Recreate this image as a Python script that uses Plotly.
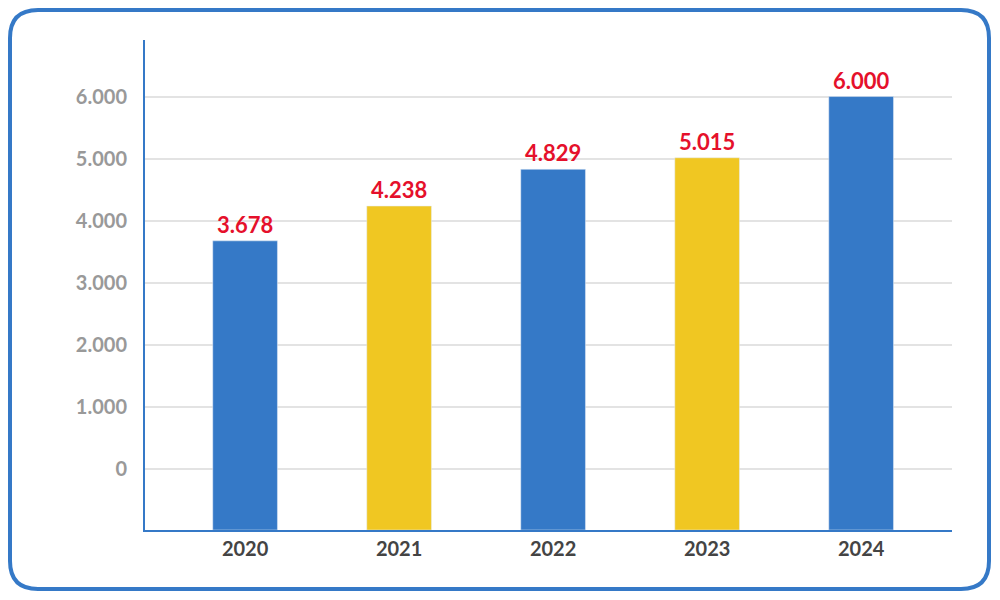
import plotly.graph_objects as go

years = ["2020", "2021", "2022", "2023", "2024"]
values = [3678, 4238, 4829, 5015, 6000]
labels = ["3.678", "4.238", "4.829", "5.015", "6.000"]
colors = ["#3579C7", "#F0C722", "#3579C7", "#F0C722", "#3579C7"]
tick_vals = [0, 1000, 2000, 3000, 4000, 5000, 6000]
tick_text = ["0", "1.000", "2.000", "3.000", "4.000", "5.000", "6.000"]

base = -975
OFF = 8  # page body margin
W, H = 1000 - OFF, 600 - OFF
L, R, T, B = 145 - OFF, 48, 40 - OFF, 70
pw, ph = W - L - R, H - T - B

def px(x): return (x - OFF - L) / pw
def py(y): return 1 - (y - OFF - T) / ph

fig = go.Figure(go.Bar(
    x=list(range(len(years))), y=[v - base for v in values], base=base,
    marker_color=colors, width=0.42,
    text=labels, textposition="outside", cliponaxis=False,
    textfont=dict(color="#E5102B", size=22, family="Lato", weight="bold"),
))

r = 28
x0, x1, y0, y1 = 10, 989, 10, 589
path = (f"M {px(x0+r)} {py(y0)} L {px(x1-r)} {py(y0)} Q {px(x1)} {py(y0)} {px(x1)} {py(y0+r)} "
        f"L {px(x1)} {py(y1-r)} Q {px(x1)} {py(y1)} {px(x1-r)} {py(y1)} "
        f"L {px(x0+r)} {py(y1)} Q {px(x0)} {py(y1)} {px(x0)} {py(y1-r)} "
        f"L {px(x0)} {py(y0+r)} Q {px(x0)} {py(y0)} {px(x0+r)} {py(y0)} Z")

fig.update_layout(
    width=W, height=H, margin=dict(l=L, r=R, t=T, b=B),
    paper_bgcolor="white", plot_bgcolor="white", showlegend=False,
    xaxis=dict(range=[-0.65, 4.59], tickvals=list(range(len(years))), ticktext=years,
               showgrid=False, showline=True, linecolor="#3579C7", linewidth=2,
               tickfont=dict(size=20, color="#444444", family="Lato", weight="bold"), ticks=""),
    yaxis=dict(range=[base, 6910], tickvals=tick_vals, ticktext=tick_text,
               showgrid=True, gridcolor="#E3E3E3", gridwidth=1.5, zeroline=False,
               showline=True, linecolor="#3579C7", linewidth=2, ticks="",
               ticklabelstandoff=12,
               tickfont=dict(size=20, color="#999999", family="Lato", weight="bold")),
    shapes=[dict(type="path", path=path, xref="paper", yref="paper",
                 line=dict(color="#3579C7", width=4), layer="above")],
)
fig.write_html("out.html")
